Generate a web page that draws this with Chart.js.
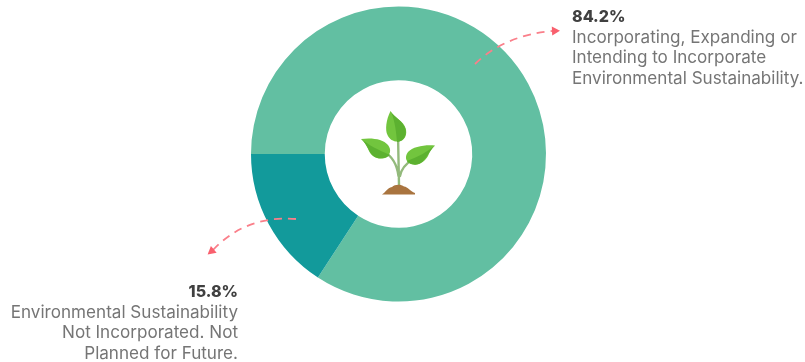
<!DOCTYPE html>
<html>
<head>
<meta charset="utf-8">
<title>Environmental Sustainability</title>
<script src="https://cdn.jsdelivr.net/npm/chart.js@4"></script>
<style>
  html, body { margin: 0; padding: 0; background: #fff; }
  #wrap { position: relative; width: 805px; height: 362px; overflow: hidden; font-family: Inter, "Open Sans", sans-serif; }
  #wrap canvas { position: absolute; left: 0; top: 0; }
  .note { position: absolute; font-size: 17.1px; line-height: 20.6px; color: #757575; white-space: nowrap; }
  .note b { display: block; font-size: 16px; color: #404040; font-weight: 800; }
  #note-a { left: 572px; top: 6px; }
  #note-b { right: 567px; top: 281px; text-align: right; }
</style>
</head>
<body>
<div id="wrap">
  <canvas id="donut" width="805" height="362"></canvas>
  <div class="note" id="note-a"></div>
  <div class="note" id="note-b"></div>
</div>
<script>
var categories = ['Incorporating, Expanding or Intending to Incorporate Environmental Sustainability.',
                  'Environmental Sustainability Not Incorporated. Not Planned for Future.'];
var shares = [84.2, 15.8];
var sliceColors = ['#62bfa2', '#129a9b'];
var noteA = ['Incorporating, Expanding or', 'Intending to Incorporate', 'Environmental Sustainability.'];
var noteB = ['Environmental Sustainability', 'Not Incorporated. Not', 'Planned for Future.'];

function fillNote(id, value, lines) {
  document.getElementById(id).innerHTML = '<b>' + value.toFixed(1) + '%</b>' + lines.join('<br>');
}
fillNote('note-a', shares[0], noteA);
fillNote('note-b', shares[1], noteB);

/* dashed curved arrow from a slice out to its note */
function dashedArrow(ctx, x0, y0, cx, cy, x1, y1, headAngle) {
  ctx.save();
  ctx.strokeStyle = '#fa7f8a';
  ctx.lineWidth = 1.8;
  ctx.setLineDash([8, 6]);
  ctx.beginPath();
  ctx.moveTo(x0, y0);
  ctx.quadraticCurveTo(cx, cy, x1, y1);
  ctx.stroke();
  ctx.setLineDash([]);
  ctx.fillStyle = '#f9606e';
  ctx.translate(x1, y1);
  ctx.rotate(headAngle);
  ctx.beginPath();
  ctx.moveTo(7, 0);
  ctx.lineTo(-1, -4.5);
  ctx.lineTo(-1, 4.5);
  ctx.closePath();
  ctx.fill();
  ctx.restore();
}

function leaf(ctx, outline, shade) {
  ctx.fillStyle = '#72c53e';
  ctx.fill(new Path2D(outline));
  ctx.fillStyle = '#5cb130';
  ctx.fill(new Path2D(shade));
}

/* seedling icon in the donut hole */
function seedling(ctx) {
  ctx.save();
  ctx.lineCap = 'round';
  ctx.strokeStyle = '#93ba7c';
  ctx.lineWidth = 2.4;
  ctx.beginPath();
  ctx.moveTo(398, 134); ctx.lineTo(399, 185);
  ctx.moveTo(398.5, 176); ctx.quadraticCurveTo(396, 158, 384, 152);
  ctx.moveTo(400, 176); ctx.quadraticCurveTo(402, 166, 412, 160);
  ctx.stroke();

  leaf(ctx,
    'M390.5 111 C386 120 385 130 387.5 135 C390 141 397 143 402 140.5 C407.5 137 407.5 129 403 123.5 C398 118 393 116 390.5 111 Z',
    'M390.5 111 C394 118 396 128 397 142 C402 142 407 137 405.5 129 C403 121 394 117 390.5 111 Z');
  leaf(ctx,
    'M361 139 C372 137.5 383 139 388 145 C392 150 390 156 385 158 C378 160 372 157 369 151 C367 146 365 142 361 139 Z',
    'M361 139 C369 145 378 150 390 155 C387 158 380 160 374 156.5 C369 153 367 144 361 139 Z');
  leaf(ctx,
    'M435 145.5 C425 144.5 413 146.5 408 152 C404 157 406 163.5 413 164.5 C420 165.5 425 161 428 156 C430 151 432 148 435 145.5 Z',
    'M435 145.5 C427 152 418 157 407 161 C409 164 415 166 420 163.5 C426 160 429 151 435 145.5 Z');

  ctx.fillStyle = '#a9743f';
  ctx.fill(new Path2D('M382 194.5 C386 192 387 188 392 187 C395 184 401 184 404 186.5 C408 187 410 191 415 193 L415 194.5 Z'));
  ctx.restore();
}

var decorations = {
  id: 'decorations',
  afterDraw: function (chart) {
    var ctx = chart.ctx;
    seedling(ctx);
    dashedArrow(ctx, 475, 64, 505, 35, 553, 31, -0.05);
    dashedArrow(ctx, 296, 219, 246, 215, 213, 250, 2.45);
  }
};

new Chart(document.getElementById('donut'), {
  type: 'doughnut',
  data: {
    labels: categories,
    datasets: [{ data: shares, backgroundColor: sliceColors, borderWidth: 0 }]
  },
  options: {
    responsive: false,
    animation: false,
    rotation: 270,
    cutout: '50%',
    layout: { padding: { left: 251, right: 259, top: 6, bottom: 60 } },
    plugins: { legend: { display: false }, tooltip: { enabled: false } }
  },
  plugins: [decorations]
});
</script>
</body>
</html>
